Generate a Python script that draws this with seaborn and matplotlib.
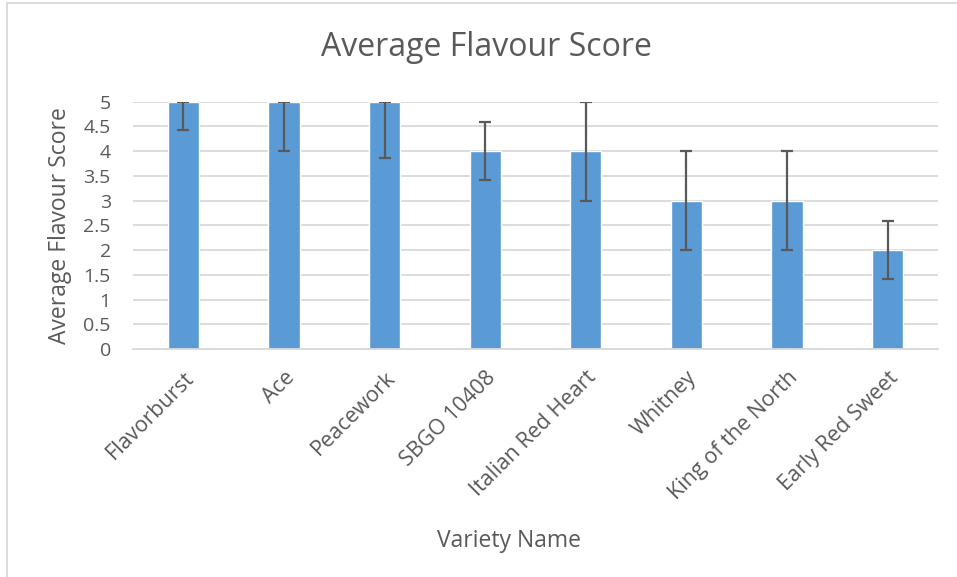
import matplotlib
matplotlib.use("Agg")
import matplotlib.pyplot as plt
import seaborn as sns
import pandas as pd

varieties = ["Flavorburst", "Ace", "Peacework", "SBGO 10408", "Italian Red Heart",
             "Whitney", "King of the North", "Early Red Sweet"]
scores = [5, 5, 5, 4, 4, 3, 3, 2]
err_minus = [0.57, 1.0, 1.15, 0.58, 1.0, 1.0, 1.0, 0.58]
err_plus = [0.0, 0.0, 0.0, 0.58, 1.0, 1.0, 1.0, 0.58]
yticks = [0, 0.5, 1, 1.5, 2, 2.5, 3, 3.5, 4, 4.5, 5]

sns.set_style("white")
plt.rcParams["font.family"] = ["Open Sans", "DejaVu Sans"]
grey = "#595959"

df = pd.DataFrame({"variety": varieties, "score": scores})

fig = plt.figure(figsize=(9.57, 5.77), dpi=100)
ax = fig.add_axes([0.139, 0.395, 0.841, 0.429])

sns.barplot(data=df, x="variety", y="score", color="#5B9BD5", saturation=1,
            width=0.31, ax=ax, zorder=2)
ax.errorbar(range(len(varieties)), scores, yerr=[err_minus, err_plus], fmt="none",
            ecolor=grey, elinewidth=1.6, capsize=4.5, capthick=1.6, zorder=3)

ax.set_ylim(0, 5)
ax.set_xlim(-0.5, len(varieties) - 0.5)
ax.set_yticks(yticks)
ax.set_yticklabels([f"{t:g}" for t in yticks])
ax.yaxis.grid(True, color="#D9D9D9", linewidth=1.3, zorder=0)
ax.set_axisbelow(True)
for s in ["top", "right", "left"]:
    ax.spines[s].set_visible(False)
ax.spines["bottom"].set_color("#D9D9D9")
ax.spines["bottom"].set_linewidth(1.3)
ax.tick_params(axis="y", length=0, pad=16, labelsize=14, labelcolor=grey)
ax.tick_params(axis="x", length=0, pad=13, labelsize=15.5, labelcolor=grey)
plt.setp(ax.get_xticklabels(), rotation=45, ha="right", rotation_mode="anchor")
ax.set_xlabel("")
ax.set_ylabel("Average Flavour Score", fontsize=16.5, color=grey, labelpad=8)

fig.text(0.508, 0.918, "Average Flavour Score", fontsize=23, color=grey,
         ha="center", va="center")
fig.text(0.532, 0.062, "Variety Name", fontsize=16.5, color=grey,
         ha="center", va="center")

fig.patches.append(plt.Rectangle((7 / 957, -0.05), 1.2, 1.0 - 3 / 577 + 0.05,
                                 transform=fig.transFigure, fill=False,
                                 edgecolor="#D9D9D9", linewidth=1.3))

fig.savefig("out.png", dpi=100)
